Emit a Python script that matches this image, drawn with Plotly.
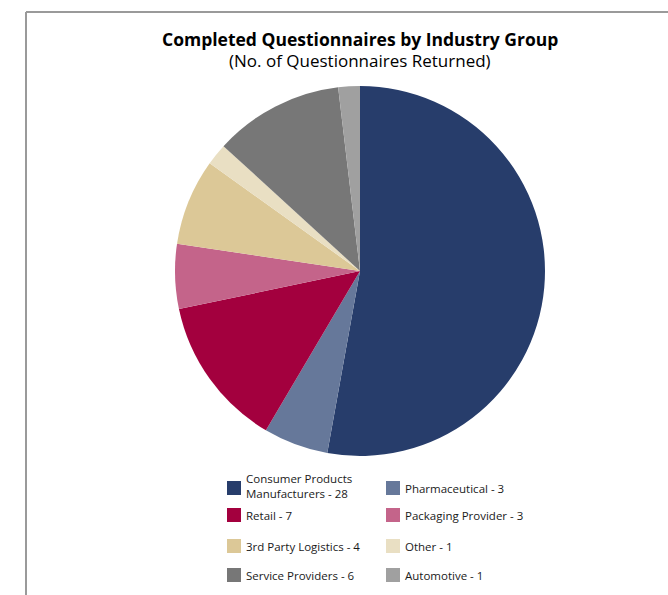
import plotly.graph_objects as go

W, H = 668, 595

industries = [
    "Consumer Products<br>Manufacturers",
    "Pharmaceutical",
    "Retail",
    "Packaging Provider",
    "3rd Party Logistics",
    "Other",
    "Service Providers",
    "Automotive",
]
returned = [28, 3, 7, 3, 4, 1, 6, 1]
colors = ["#273d6b", "#66789a", "#a3003e", "#c4648a",
          "#dcc897", "#e9dfc3", "#777777", "#a0a0a0"]

FONT = "Open Sans"

fig = go.Figure()
fig.add_trace(go.Pie(
    labels=industries,
    values=returned,
    sort=False,
    direction="clockwise",
    rotation=0,
    marker=dict(colors=colors, line=dict(width=0)),
    textinfo="none",
    hoverinfo="label+value",
    showlegend=False,
    domain=dict(x=[175 / W, 545 / W], y=[1 - 456 / H, 1 - 86 / H]),
))

def px(x):
    return x / W

def py(y):
    return 1 - y / H

shapes = [
    # frame around the chart (left and top edges)
    dict(type="line", xref="paper", yref="paper",
         x0=px(26), y0=py(H), x1=px(26), y1=py(12),
         line=dict(color="#9a9a9a", width=2)),
    dict(type="line", xref="paper", yref="paper",
         x0=px(26), y0=py(12), x1=px(W), y1=py(12),
         line=dict(color="#9a9a9a", width=2)),
]
annotations = [
    dict(text="<b>Completed Questionnaires by Industry Group</b>",
         x=px(360), y=py(39), xref="paper", yref="paper", showarrow=False,
         font=dict(family=FONT, size=17.5, color="#000000"),
         xanchor="center", yanchor="middle"),
    dict(text="(No. of Questionnaires Returned)",
         x=px(360), y=py(61), xref="paper", yref="paper", showarrow=False,
         font=dict(family=FONT, size=17, color="#000000"),
         xanchor="center", yanchor="middle"),
]

# two-column legend built from the data
col_sq_x = [227, 386]
row_sq_y = [481, 508, 539, 568]
SQ = 14
for i, (name, val, col) in enumerate(zip(industries, returned, colors)):
    c, r = i % 2, i // 2
    x0, y0 = col_sq_x[c], row_sq_y[r]
    shapes.append(dict(type="rect", xref="paper", yref="paper",
                       x0=px(x0), x1=px(x0 + SQ), y0=py(y0), y1=py(y0 + SQ),
                       fillcolor=col, line=dict(width=0)))
    ty = y0 + SQ / 2 - (2 if "<br>" in name else 0)
    annotations.append(dict(
        text=f"{name} - {val}", x=px(x0 + 17), y=py(ty),
        xref="paper", yref="paper", showarrow=False, align="left",
        xanchor="left", yanchor="middle",
        font=dict(family=FONT, size=11.5, color="#1a1a1a")))

fig.update_layout(
    width=W, height=H,
    margin=dict(l=0, r=0, t=0, b=0),
    paper_bgcolor="white", plot_bgcolor="white",
    shapes=shapes, annotations=annotations,
)

fig.write_html("out.html")
